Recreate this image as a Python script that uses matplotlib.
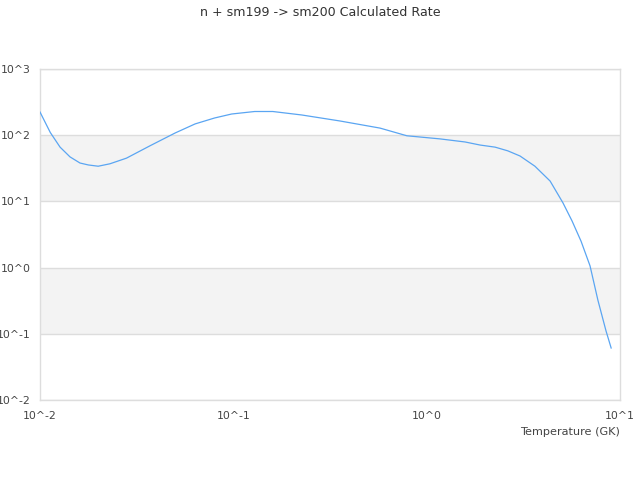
import numpy as np
import matplotlib
matplotlib.use('Agg')
import matplotlib.pyplot as plt

# ----------------------------
# Data
# ----------------------------
temperature = [0.0100, 0.0113, 0.0127, 0.0143, 0.0161, 0.0178, 0.0200, 0.0230,
               0.0280, 0.0370, 0.0500, 0.0634, 0.0800, 0.0980, 0.129, 0.160,
               0.226, 0.356, 0.574, 0.790, 1.17, 1.58, 1.89, 2.26, 2.63,
               3.04, 3.63, 4.35, 5.07, 5.65, 6.29, 7.00, 7.69, 8.47, 9.00]
rate = [224, 110, 66, 47, 38, 35.5, 34, 37, 45, 69, 108, 148, 182, 209, 228, 228,
        202, 164, 128, 98, 88, 79, 71, 66, 58, 48.5, 34, 20.3, 9.5, 5.06,
        2.5, 1.06, 0.32, 0.11, 0.061]

y_decades = [-2, -1, 0, 1, 2, 3]
x_decades = [-2, -1, 0, 1]
shaded = [(-1, 0), (1, 2)]

text_col = '#444444'
grid_col = '#dddddd'

fig = plt.figure(figsize=(6.4, 4.8), dpi=100)
ax = fig.add_axes([40 / 640, 80 / 480, 580 / 640, 331 / 480])

ax.set_xscale('log')
ax.set_yscale('log')
ax.set_xlim(10.0 ** x_decades[0], 10.0 ** x_decades[-1])
ax.set_ylim(10.0 ** y_decades[0], 10.0 ** y_decades[-1])

# bandas alternadas
for lo, hi in shaded:
    ax.axhspan(10.0 ** lo, 10.0 ** hi, color='#f3f3f3', lw=0, zorder=0)
for d in y_decades:
    ax.axhline(10.0 ** d, color=grid_col, lw=1, zorder=1)

ax.plot(temperature, rate, color='#5aa5f2', lw=0.9, zorder=3)

ax.set_yticks([10.0 ** d for d in y_decades])
ax.set_yticklabels(['10^%d' % d for d in y_decades])
ax.set_xticks([10.0 ** d for d in x_decades])
ax.set_xticklabels(['10^%d' % d for d in x_decades])
ax.minorticks_off()
ax.tick_params(length=0, labelsize=7.8, colors=text_col)
ax.tick_params(axis='y', pad=6.5)
ax.tick_params(axis='x', pad=8)

for s in ax.spines.values():
    s.set_color(grid_col)
    s.set_linewidth(1)

ax.set_xlabel('Temperature (GK)', loc='right', fontsize=8.1, color=text_col, labelpad=4)
fig.text(0.5, 1 - 12.5 / 480, 'n + sm199 -> sm200 Calculated Rate',
         ha='center', va='center', fontsize=9.1, color='#333333')

fig.savefig('out.png', dpi=100)
